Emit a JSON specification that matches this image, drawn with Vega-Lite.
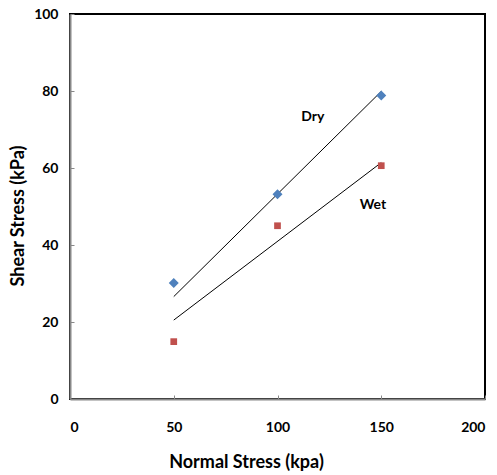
{
  "$schema": "https://vega.github.io/schema/vega-lite/v6.json",
  "autosize": "none",
  "width": 415,
  "height": 385,
  "padding": {"left": 70, "top": 14, "right": 12, "bottom": 76},
  "background": "white",
  "config": {
    "view": {"stroke": "black", "strokeWidth": 2},
    "font": "Lato",
    "axis": {
      "grid": false,
      "domainColor": "#888888",
      "domainWidth": 2,
      "tickColor": "#888888",
      "tickSize": -4,
      "labelFont": "Lato",
      "labelFontWeight": "bold",
      "labelFontSize": 14,
      "labelColor": "black",
      "titleFont": "Lato",
      "titleFontWeight": "bold",
      "titleFontSize": 18,
      "titleColor": "black"
    }
  },
  "datasets": {
    "points": [
      {"series": "Dry", "stress": 50, "shear": 30.1},
      {"series": "Dry", "stress": 100, "shear": 53.2},
      {"series": "Dry", "stress": 150, "shear": 78.8},
      {"series": "Wet", "stress": 50, "shear": 14.9},
      {"series": "Wet", "stress": 100, "shear": 45.0},
      {"series": "Wet", "stress": 150, "shear": 60.6}
    ],
    "trend": [
      {"series": "Dry", "stress": 50, "shear": 26.6},
      {"series": "Dry", "stress": 150, "shear": 79.9},
      {"series": "Wet", "stress": 50, "shear": 20.5},
      {"series": "Wet", "stress": 150, "shear": 61.4}
    ],
    "labels": [
      {"label": "Dry", "stress": 117, "shear": 73.3},
      {"label": "Wet", "stress": 146, "shear": 50.4}
    ]
  },
  "layer": [
    {
      "data": {"name": "trend"},
      "mark": {"type": "line", "color": "black", "strokeWidth": 1},
      "encoding": {
        "x": {"field": "stress", "type": "quantitative", "scale": {"domain": [0, 200]},
          "axis": {"values": [0, 50, 100, 150, 200], "title": "Normal Stress (kpa)", "labelPadding": 25, "titleX": 176, "titleY": 63, "titleBaseline": "middle", "titleAlign": "center"}},
        "y": {"field": "shear", "type": "quantitative", "scale": {"domain": [0, 100]},
          "axis": {"values": [0, 20, 40, 60, 80, 100], "title": "Shear Stress (kPa)", "labelPadding": 16, "titleX": -52, "titleY": 201.5, "titleBaseline": "middle", "titleAlign": "center"}},
        "detail": {"field": "series"}
      }
    },
    {
      "data": {"name": "points"},
      "mark": {"type": "point", "filled": true, "opacity": 1},
      "encoding": {
        "x": {"field": "stress", "type": "quantitative"},
        "y": {"field": "shear", "type": "quantitative"},
        "color": {"field": "series", "type": "nominal", "scale": {"domain": ["Dry", "Wet"], "range": ["#4F81BD", "#C0504D"]}, "legend": null},
        "shape": {"field": "series", "type": "nominal", "scale": {"domain": ["Dry", "Wet"], "range": ["diamond", "square"]}, "legend": null},
        "size": {"field": "series", "type": "nominal", "scale": {"domain": ["Dry", "Wet"], "range": [100, 45]}, "legend": null}
      }
    },
    {
      "data": {"name": "labels"},
      "mark": {"type": "text", "font": "Lato", "fontWeight": "bold", "fontSize": 14, "color": "black"},
      "encoding": {
        "x": {"field": "stress", "type": "quantitative"},
        "y": {"field": "shear", "type": "quantitative"},
        "text": {"field": "label"}
      }
    }
  ]
}
